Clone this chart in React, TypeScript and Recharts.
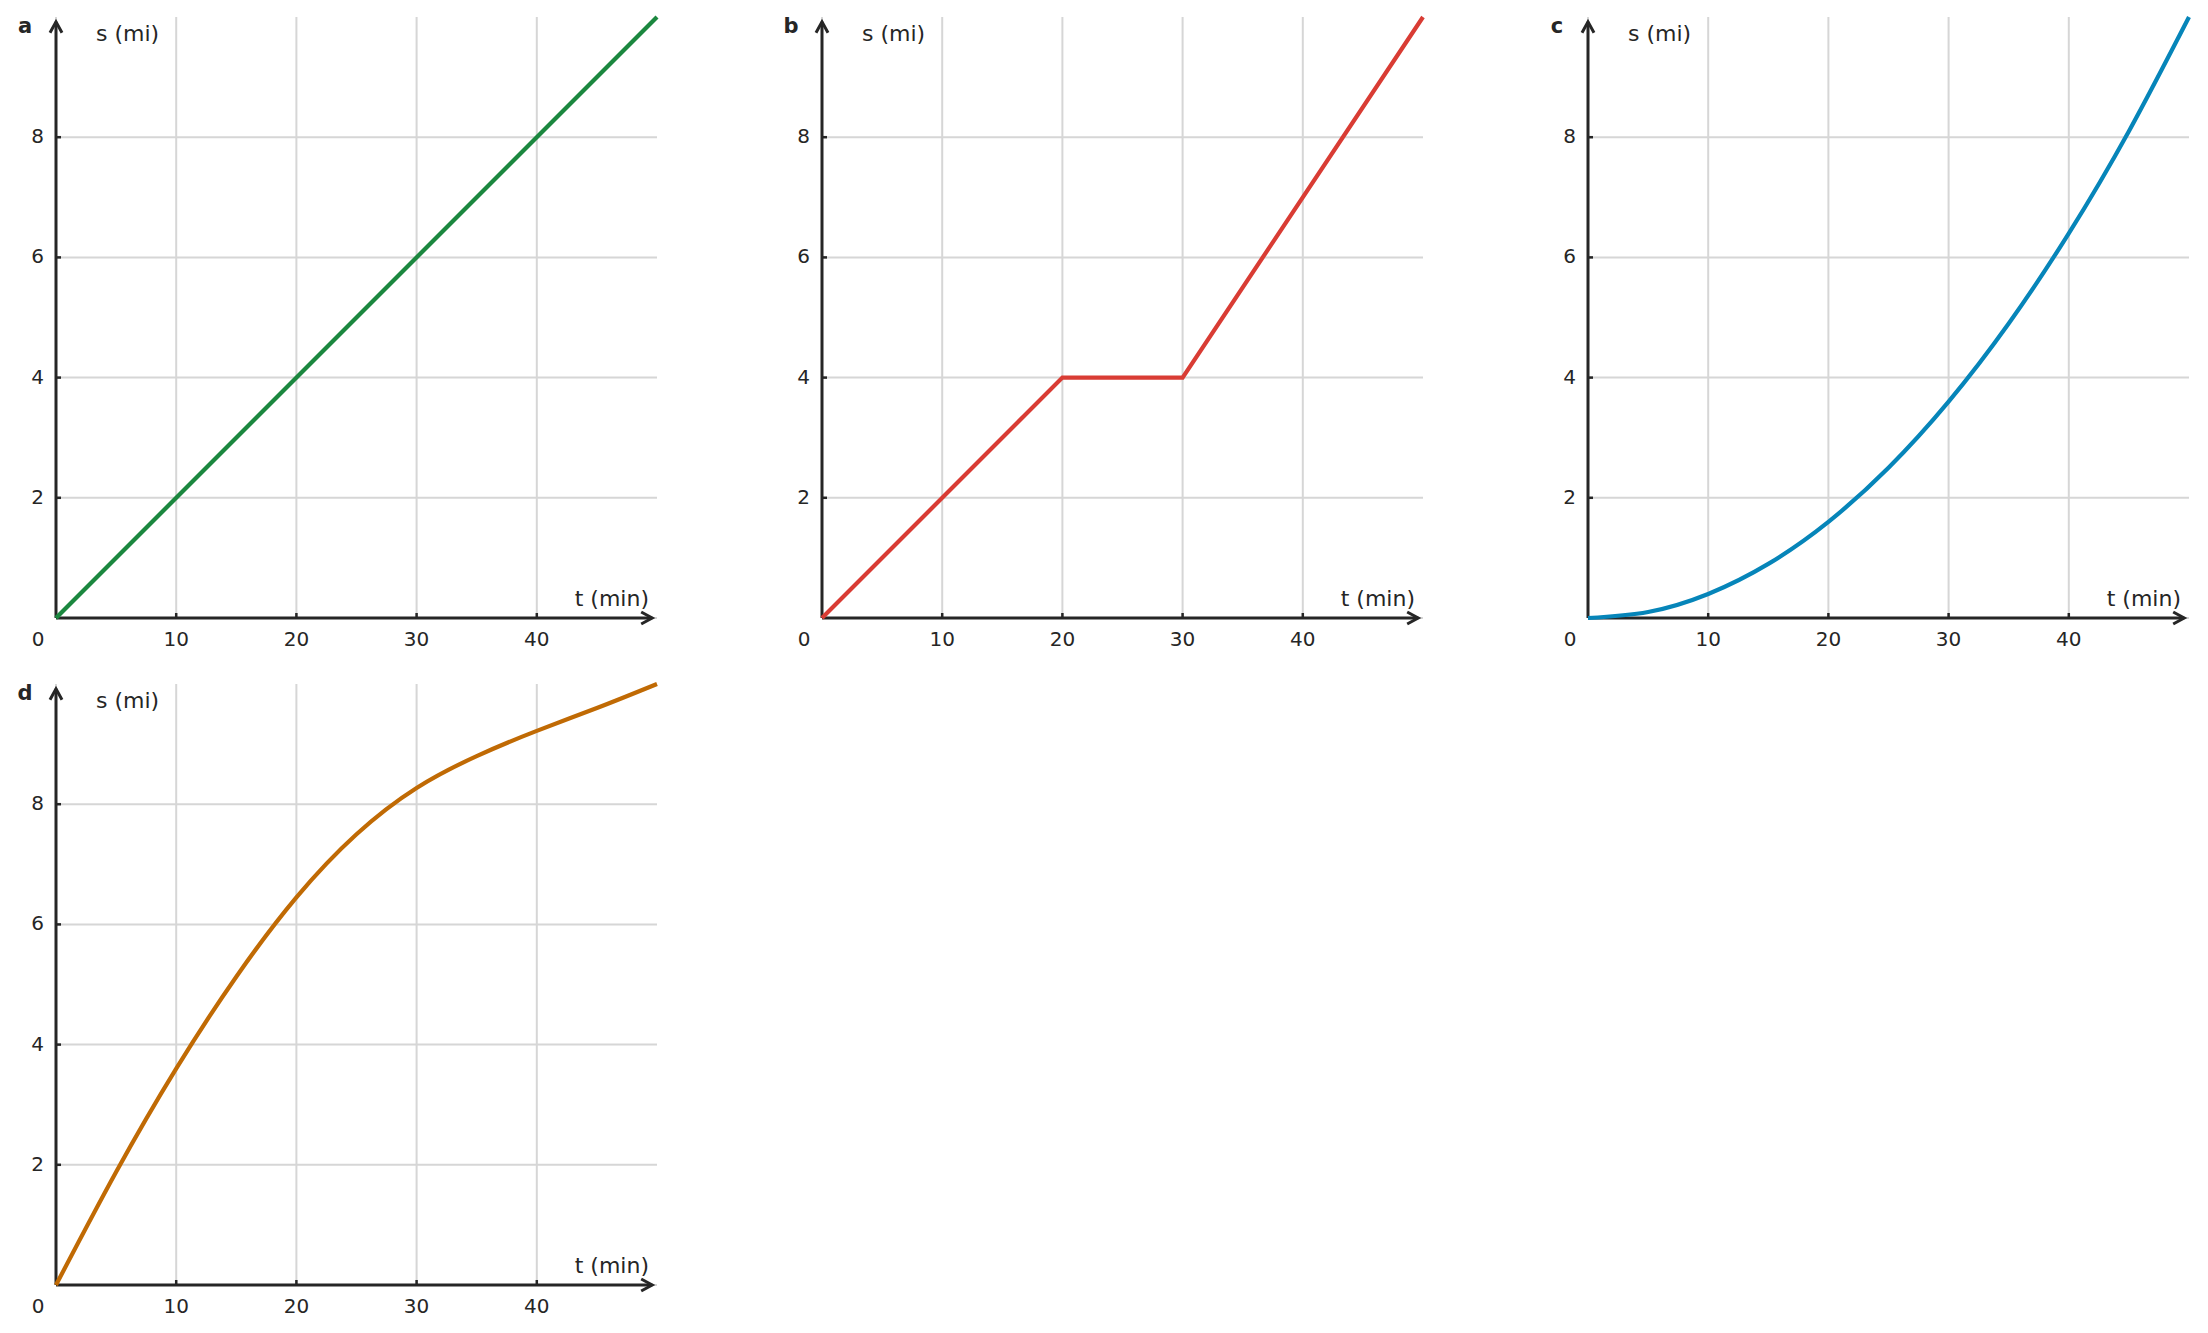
import React from "react";
import {
  LineChart,
  Line,
  XAxis,
  YAxis,
  CartesianGrid,
  ReferenceLine,
  ReferenceDot,
} from "recharts";

// tick values shared by all four panels
const timeTicks = [0, 10, 20, 30, 40];
const distTicks = [2, 4, 6, 8];

// a: constant speed
const timeA = [0, 50];
const distA = [0, 10];

// b: drive, stop, drive faster
const timeB = [0, 20, 30, 50];
const distB = [0, 4, 4, 10];

// c: speeding up
const timeC = [0, 5, 10, 15, 20, 25, 30, 35, 40, 45, 50];
const distC = [0, 0.1, 0.4, 0.9, 1.6, 2.5, 3.6, 4.9, 6.4, 8.1, 10];

// d: slowing down
const timeD = [0, 5, 10, 15, 20, 25, 30, 35, 40, 45, 50];
const distD = [0, 1.88, 3.6, 5.13, 6.45, 7.5, 8.27, 8.8, 9.22, 9.6, 10];

const FONT = "'DejaVu Sans', Verdana, sans-serif";
const AXIS = "#262626";
const GRID = "#d6d6d6";

const CHART_W = 667;
const CHART_H = 660;
const PLOT_LEFT = 56;
const PLOT_TOP = 17;
const PLOT_SIZE = 601;

const TimeTick = (props: any) => {
  const { x, y, payload } = props;
  if (payload.value === 0) {
    return (
      <text x={x - 18} y={y + 28} textAnchor="middle" fontSize={20} fill={AXIS} fontFamily={FONT}>
        0
      </text>
    );
  }
  return (
    <g>
      <line x1={x} y1={y} x2={x} y2={y - 5} stroke={AXIS} strokeWidth={2.5} />
      <text x={x} y={y + 28} textAnchor="middle" fontSize={20} fill={AXIS} fontFamily={FONT}>
        {payload.value}
      </text>
    </g>
  );
};

const DistTick = (props: any) => {
  const { x, y, payload } = props;
  return (
    <g>
      <line x1={x} y1={y} x2={x + 5} y2={y} stroke={AXIS} strokeWidth={2.5} />
      <text x={x - 12} y={y + 6} textAnchor="end" fontSize={20} fill={AXIS} fontFamily={FONT}>
        {payload.value}
      </text>
    </g>
  );
};

const xArrow = (p: any) => (
  <path
    d={`M${p.cx - 11},${p.cy - 6} L${p.cx},${p.cy} L${p.cx - 11},${p.cy + 6}`}
    fill="none"
    stroke={AXIS}
    strokeWidth={3}
  />
);

const yArrow = (p: any) => (
  <path
    d={`M${p.cx - 6},${p.cy + 11} L${p.cx},${p.cy} L${p.cx + 6},${p.cy + 11}`}
    fill="none"
    stroke={AXIS}
    strokeWidth={3}
  />
);

interface PanelProps {
  letter: string;
  time: number[];
  dist: number[];
  color: string;
  curve: "linear" | "natural";
  left: number;
  top: number;
}

const Panel: React.FC<PanelProps> = ({ letter, time, dist, color, curve, left, top }) => {
  const data = time.map((t, i) => ({ t, s: dist[i] }));
  return (
    <div style={{ position: "absolute", left, top, width: CHART_W, height: CHART_H }}>
      <LineChart
        width={CHART_W}
        height={CHART_H}
        data={data}
        margin={{ top: PLOT_TOP, right: CHART_W - PLOT_LEFT - PLOT_SIZE, bottom: 0, left: 0 }}
      >
        <CartesianGrid
          stroke={GRID}
          strokeWidth={2}
          horizontalValues={distTicks}
          verticalValues={[10, 20, 30, 40]}
        />
        <XAxis
          dataKey="t"
          type="number"
          domain={[0, 50]}
          ticks={timeTicks}
          interval={0}
          height={CHART_H - PLOT_TOP - PLOT_SIZE}
          tickSize={0}
          tickMargin={0}
          tickLine={false}
          axisLine={false}
          tick={<TimeTick />}
        />
        <YAxis
          type="number"
          domain={[0, 10]}
          ticks={distTicks}
          interval={0}
          width={PLOT_LEFT}
          tickSize={0}
          tickMargin={0}
          tickLine={false}
          axisLine={false}
          tick={<DistTick />}
        />
        {/* faint spine past the arrow tips */}
        <ReferenceLine segment={[{ x: 49.6, y: 0 }, { x: 50, y: 0 }]} stroke={GRID} strokeWidth={2} ifOverflow="visible" />
        <ReferenceLine segment={[{ x: 0, y: 9.92 }, { x: 0, y: 10 }]} stroke={GRID} strokeWidth={2} ifOverflow="visible" />
        <ReferenceLine
          segment={[{ x: 0, y: 0 }, { x: 49.6, y: 0 }]}
          stroke={AXIS}
          strokeWidth={3}
          ifOverflow="visible"
        />
        <ReferenceLine
          segment={[{ x: 0, y: 0 }, { x: 0, y: 9.92 }]}
          stroke={AXIS}
          strokeWidth={3}
          ifOverflow="visible"
        />
        <ReferenceDot x={49.6} y={0} r={0} shape={xArrow} ifOverflow="visible" />
        <ReferenceDot x={0} y={9.92} r={0} shape={yArrow} ifOverflow="visible" />
        <Line
          type={curve}
          dataKey="s"
          stroke={color}
          strokeWidth={4.2}
          dot={false}
          activeDot={false}
          isAnimationActive={false}
        />
      </LineChart>
      <svg
        width={CHART_W}
        height={CHART_H}
        style={{ position: "absolute", left: 0, top: 0, pointerEvents: "none" }}
      >
        <text x={25} y={33} textAnchor="middle" fontSize={21} fontWeight="bold" fill={AXIS} fontFamily={FONT}>
          {letter}
        </text>
        <text x={96} y={41} fontSize={22} fill={AXIS} fontFamily={FONT}>
          s (mi)
        </text>
        <text x={649} y={606} textAnchor="end" fontSize={22} fill={AXIS} fontFamily={FONT}>
          t (min)
        </text>
      </svg>
    </div>
  );
};

export default function App() {
  return (
    <div
      style={{
        position: "absolute",
        left: 0,
        top: 0,
        width: 2208,
        height: 1333,
        overflow: "hidden",
        background: "#ffffff",
        fontFamily: FONT,
      }}
    >
      <Panel letter="a" time={timeA} dist={distA} color="#1b873f" curve="linear" left={0} top={0} />
      <Panel letter="b" time={timeB} dist={distB} color="#d93c34" curve="linear" left={766} top={0} />
      <Panel letter="c" time={timeC} dist={distC} color="#0685b9" curve="natural" left={1532} top={0} />
      <Panel letter="d" time={timeD} dist={distD} color="#c06a04" curve="natural" left={0} top={667} />
    </div>
  );
}
